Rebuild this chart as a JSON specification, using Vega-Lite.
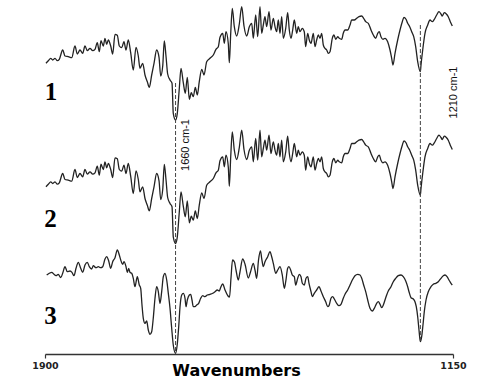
{
  "$schema": "https://vega.github.io/schema/vega-lite/v6.json",
  "width": 408,
  "height": 354,
  "autosize": {"type": "none"},
  "padding": {"left": 45, "top": 0, "right": 35, "bottom": 24},
  "background": "white",
  "config": {"view": {"stroke": null}},
  "datasets": {
    "traces": [
      {"s":"1","w":1898.2,"v":290.7},{"s":"1","w":1893.9,"v":293.3},{"s":"1","w":1889.5,"v":295.7},{"s":"1","w":1885.8,"v":294},{"s":"1","w":1881.6,"v":295.7},{"s":"1","w":1877.4,"v":293.3},{"s":"1","w":1873.7,"v":294.7},{"s":"1","w":1867.5,"v":304},{"s":"1","w":1863.2,"v":298},{"s":"1","w":1857.2,"v":297.3},{"s":"1","w":1850.9,"v":296.3},{"s":"1","w":1844.9,"v":308},{"s":"1","w":1840.6,"v":300},{"s":"1","w":1835.7,"v":304},{"s":"1","w":1830.7,"v":300.7},{"s":"1","w":1826.5,"v":308},{"s":"1","w":1822.2,"v":303.3},{"s":"1","w":1817.3,"v":305.7},{"s":"1","w":1812.3,"v":303.3},{"s":"1","w":1808.1,"v":304.7},{"s":"1","w":1803.9,"v":311.3},{"s":"1","w":1800.2,"v":302.3},{"s":"1","w":1797.1,"v":313.3},{"s":"1","w":1792.8,"v":308},{"s":"1","w":1789.7,"v":315.7},{"s":"1","w":1786.6,"v":309.7},{"s":"1","w":1783.6,"v":314},{"s":"1","w":1779.2,"v":308},{"s":"1","w":1775.6,"v":300},{"s":"1","w":1771.3,"v":319.7},{"s":"1","w":1767.1,"v":318.7},{"s":"1","w":1763.4,"v":308},{"s":"1","w":1759,"v":306.3},{"s":"1","w":1754.8,"v":312.3},{"s":"1","w":1751.1,"v":304},{"s":"1","w":1746.9,"v":314},{"s":"1","w":1742.5,"v":301.3},{"s":"1","w":1737.7,"v":284},{"s":"1","w":1732.7,"v":306.7},{"s":"1","w":1728.5,"v":298},{"s":"1","w":1725.4,"v":285.7},{"s":"1","w":1720.4,"v":290.7},{"s":"1","w":1716.2,"v":279},{"s":"1","w":1711.9,"v":272.3},{"s":"1","w":1708.3,"v":266.7},{"s":"1","w":1703.9,"v":279},{"s":"1","w":1699.6,"v":290.7},{"s":"1","w":1694.7,"v":304},{"s":"1","w":1690.4,"v":296.7},{"s":"1","w":1687.3,"v":278},{"s":"1","w":1683.6,"v":288},{"s":"1","w":1680.7,"v":313},{"s":"1","w":1677.6,"v":298},{"s":"1","w":1674.5,"v":280},{"s":"1","w":1670.2,"v":274},{"s":"1","w":1666.5,"v":270.7},{"s":"1","w":1664.2,"v":240.7},{"s":"1","w":1660,"v":234},{"s":"1","w":1656.8,"v":240.7},{"s":"1","w":1653.1,"v":265.7},{"s":"1","w":1650,"v":285.7},{"s":"1","w":1645.8,"v":271.3},{"s":"1","w":1642.1,"v":260.7},{"s":"1","w":1638.4,"v":276.7},{"s":"1","w":1634.7,"v":254.7},{"s":"1","w":1631.1,"v":261.3},{"s":"1","w":1627.4,"v":257.3},{"s":"1","w":1623.7,"v":266.7},{"s":"1","w":1620,"v":259},{"s":"1","w":1616.4,"v":272.3},{"s":"1","w":1611.9,"v":284.7},{"s":"1","w":1607.7,"v":279},{"s":"1","w":1602.8,"v":292.3},{"s":"1","w":1596.7,"v":295.7},{"s":"1","w":1590.6,"v":299},{"s":"1","w":1585.7,"v":304.7},{"s":"1","w":1581.4,"v":307.3},{"s":"1","w":1578.3,"v":316.7},{"s":"1","w":1573.3,"v":320.7},{"s":"1","w":1570.4,"v":310.7},{"s":"1","w":1567.3,"v":322.3},{"s":"1","w":1563,"v":310},{"s":"1","w":1561.2,"v":291.3},{"s":"1","w":1558.6,"v":320.7},{"s":"1","w":1555.7,"v":345.7},{"s":"1","w":1552,"v":327.3},{"s":"1","w":1547.6,"v":318},{"s":"1","w":1542.8,"v":330},{"s":"1","w":1538.4,"v":347.3},{"s":"1","w":1534.2,"v":328},{"s":"1","w":1529.2,"v":318},{"s":"1","w":1524.4,"v":327.3},
      {"s":"1","w":1520,"v":330.7},{"s":"1","w":1517.1,"v":315.7},{"s":"1","w":1512.7,"v":339},{"s":"1","w":1509,"v":317.3},{"s":"1","w":1504.8,"v":347.3},{"s":"1","w":1501.7,"v":320.7},{"s":"1","w":1498.7,"v":329},{"s":"1","w":1495.6,"v":337.3},{"s":"1","w":1492.5,"v":327.3},{"s":"1","w":1488.2,"v":342.3},{"s":"1","w":1484.6,"v":324},{"s":"1","w":1480.3,"v":335.7},{"s":"1","w":1477.2,"v":327.3},{"s":"1","w":1474.1,"v":322.3},{"s":"1","w":1471.1,"v":334},{"s":"1","w":1468,"v":320.7},{"s":"1","w":1464.9,"v":337.3},{"s":"1","w":1461.9,"v":315.7},{"s":"1","w":1457.5,"v":325.7},{"s":"1","w":1453.9,"v":341.3},{"s":"1","w":1450.9,"v":324},{"s":"1","w":1447.8,"v":315.7},{"s":"1","w":1444.7,"v":324},{"s":"1","w":1441.7,"v":334},{"s":"1","w":1437.3,"v":320.7},{"s":"1","w":1434.4,"v":327.3},{"s":"1","w":1431.3,"v":322.3},{"s":"1","w":1427,"v":325.7},{"s":"1","w":1423.4,"v":322.3},{"s":"1","w":1420.8,"v":307.3},{"s":"1","w":1417.1,"v":320.7},{"s":"1","w":1414.2,"v":314},{"s":"1","w":1411,"v":310.7},{"s":"1","w":1406.8,"v":320.7},{"s":"1","w":1403.7,"v":307.3},{"s":"1","w":1400.6,"v":314},{"s":"1","w":1397.6,"v":319},{"s":"1","w":1394.5,"v":315.7},{"s":"1","w":1391.4,"v":320.7},{"s":"1","w":1388.4,"v":309},{"s":"1","w":1385.3,"v":305.7},{"s":"1","w":1382.2,"v":304},{"s":"1","w":1379.2,"v":300.7},{"s":"1","w":1376.1,"v":302.3},{"s":"1","w":1371.9,"v":315.7},{"s":"1","w":1368.8,"v":319},{"s":"1","w":1365.6,"v":314.7},{"s":"1","w":1361.9,"v":317.3},{"s":"1","w":1359,"v":315.7},{"s":"1","w":1354.6,"v":314.7},{"s":"1","w":1351.7,"v":320.7},{"s":"1","w":1348.5,"v":324},{"s":"1","w":1343.6,"v":324},{"s":"1","w":1339.3,"v":329},{"s":"1","w":1336.2,"v":334},{"s":"1","w":1331.4,"v":334},{"s":"1","w":1327,"v":335.7},{"s":"1","w":1322.8,"v":337.3},{"s":"1","w":1317.8,"v":338},{"s":"1","w":1314.2,"v":335.7},{"s":"1","w":1310.5,"v":332.3},{"s":"1","w":1305.7,"v":330.7},{"s":"1","w":1300.7,"v":324},{"s":"1","w":1296.5,"v":319},{"s":"1","w":1292.1,"v":315.7},{"s":"1","w":1288.4,"v":320.7},{"s":"1","w":1285.5,"v":322.3},{"s":"1","w":1282.4,"v":317.3},{"s":"1","w":1278.7,"v":314.7},{"s":"1","w":1275,"v":315.7},{"s":"1","w":1270.1,"v":312.3},{"s":"1","w":1265.8,"v":304},{"s":"1","w":1262.7,"v":295.7},{"s":"1","w":1260.3,"v":289},{"s":"1","w":1256.6,"v":300.7},{"s":"1","w":1251.7,"v":314},{"s":"1","w":1247.4,"v":324},{"s":"1","w":1243.2,"v":332.3},{"s":"1","w":1240.1,"v":336.7},{"s":"1","w":1236.4,"v":334.7},{"s":"1","w":1233.3,"v":330.7},{"s":"1","w":1229.6,"v":327.3},{"s":"1","w":1225.9,"v":322.3},{"s":"1","w":1222.2,"v":317.3},{"s":"1","w":1218.6,"v":307.3},{"s":"1","w":1214.9,"v":292.3},{"s":"1","w":1210,"v":282.3},{"s":"1","w":1208.8,"v":289},{"s":"1","w":1205.7,"v":304},{"s":"1","w":1201.5,"v":320.7},{"s":"1","w":1196.5,"v":329},{"s":"1","w":1192.3,"v":334},{"s":"1","w":1188,"v":332.3},{"s":"1","w":1184.4,"v":334.7},{"s":"1","w":1180,"v":339},{"s":"1","w":1175.8,"v":342.3},{"s":"1","w":1172.1,"v":340},{"s":"1","w":1169.7,"v":338},{"s":"1","w":1166,"v":341.3},{"s":"1","w":1162.3,"v":340},{"s":"1","w":1158.7,"v":337.3},{"s":"1","w":1155,"v":332.3},{"s":"1","w":1151.3,"v":328},

      {"s":"2","w":1898.2,"v":167.2},{"s":"2","w":1893.9,"v":169.8},{"s":"2","w":1889.5,"v":172.2},{"s":"2","w":1885.8,"v":170.5},{"s":"2","w":1881.6,"v":172.2},{"s":"2","w":1877.4,"v":169.8},{"s":"2","w":1873.7,"v":171.2},{"s":"2","w":1867.5,"v":180.5},{"s":"2","w":1863.2,"v":174.5},{"s":"2","w":1857.2,"v":173.8},{"s":"2","w":1850.9,"v":172.8},{"s":"2","w":1844.9,"v":184.5},{"s":"2","w":1840.6,"v":176.5},{"s":"2","w":1835.7,"v":180.5},{"s":"2","w":1830.7,"v":177.2},{"s":"2","w":1826.5,"v":184.5},{"s":"2","w":1822.2,"v":179.8},{"s":"2","w":1817.3,"v":182.2},{"s":"2","w":1812.3,"v":179.8},{"s":"2","w":1808.1,"v":181.2},{"s":"2","w":1803.9,"v":187.8},{"s":"2","w":1800.2,"v":178.8},{"s":"2","w":1797.1,"v":189.8},{"s":"2","w":1792.8,"v":184.5},{"s":"2","w":1789.7,"v":192.2},{"s":"2","w":1786.6,"v":186.2},{"s":"2","w":1783.6,"v":190.5},{"s":"2","w":1779.2,"v":184.5},{"s":"2","w":1775.6,"v":176.5},{"s":"2","w":1771.3,"v":196.2},{"s":"2","w":1767.1,"v":195.2},{"s":"2","w":1763.4,"v":184.5},{"s":"2","w":1759,"v":182.8},{"s":"2","w":1754.8,"v":188.8},{"s":"2","w":1751.1,"v":180.5},{"s":"2","w":1746.9,"v":190.5},{"s":"2","w":1742.5,"v":177.8},{"s":"2","w":1737.7,"v":160.5},{"s":"2","w":1732.7,"v":183.2},{"s":"2","w":1728.5,"v":174.5},{"s":"2","w":1725.4,"v":162.2},{"s":"2","w":1720.4,"v":167.2},{"s":"2","w":1716.2,"v":155.5},{"s":"2","w":1711.9,"v":148.8},{"s":"2","w":1708.3,"v":143.2},{"s":"2","w":1703.9,"v":155.5},{"s":"2","w":1699.6,"v":167.2},{"s":"2","w":1694.7,"v":180.5},{"s":"2","w":1690.4,"v":173.2},{"s":"2","w":1687.3,"v":154.5},{"s":"2","w":1683.6,"v":164.5},{"s":"2","w":1680.7,"v":189.5},{"s":"2","w":1677.6,"v":174.5},{"s":"2","w":1674.5,"v":156.5},{"s":"2","w":1670.2,"v":150.5},{"s":"2","w":1666.5,"v":147.2},{"s":"2","w":1664.2,"v":117.2},{"s":"2","w":1660,"v":110.5},{"s":"2","w":1656.8,"v":117.2},{"s":"2","w":1653.1,"v":142.2},{"s":"2","w":1650,"v":162.2},{"s":"2","w":1645.8,"v":147.8},{"s":"2","w":1642.1,"v":137.2},{"s":"2","w":1638.4,"v":153.2},{"s":"2","w":1634.7,"v":131.2},{"s":"2","w":1631.1,"v":137.8},{"s":"2","w":1627.4,"v":133.8},{"s":"2","w":1623.7,"v":143.2},{"s":"2","w":1620,"v":135.5},{"s":"2","w":1616.4,"v":148.8},{"s":"2","w":1611.9,"v":161.2},{"s":"2","w":1607.7,"v":155.5},{"s":"2","w":1602.8,"v":168.8},{"s":"2","w":1596.7,"v":172.2},{"s":"2","w":1590.6,"v":175.5},{"s":"2","w":1585.7,"v":181.2},{"s":"2","w":1581.4,"v":183.8},{"s":"2","w":1578.3,"v":193.2},{"s":"2","w":1573.3,"v":197.2},{"s":"2","w":1570.4,"v":187.2},{"s":"2","w":1567.3,"v":198.8},{"s":"2","w":1563,"v":186.5},{"s":"2","w":1561.2,"v":167.8},{"s":"2","w":1558.6,"v":197.2},{"s":"2","w":1555.7,"v":222.2},{"s":"2","w":1552,"v":203.8},{"s":"2","w":1547.6,"v":194.5},{"s":"2","w":1542.8,"v":206.5},{"s":"2","w":1538.4,"v":223.8},{"s":"2","w":1534.2,"v":204.5},{"s":"2","w":1529.2,"v":194.5},{"s":"2","w":1524.4,"v":203.8},
      {"s":"2","w":1520,"v":207.2},{"s":"2","w":1517.1,"v":192.2},{"s":"2","w":1512.7,"v":215.5},{"s":"2","w":1509,"v":193.8},{"s":"2","w":1504.8,"v":223.8},{"s":"2","w":1501.7,"v":197.2},{"s":"2","w":1498.7,"v":205.5},{"s":"2","w":1495.6,"v":213.8},{"s":"2","w":1492.5,"v":203.8},{"s":"2","w":1488.2,"v":218.8},{"s":"2","w":1484.6,"v":200.5},{"s":"2","w":1480.3,"v":212.2},{"s":"2","w":1477.2,"v":203.8},{"s":"2","w":1474.1,"v":198.8},{"s":"2","w":1471.1,"v":210.5},{"s":"2","w":1468,"v":197.2},{"s":"2","w":1464.9,"v":213.8},{"s":"2","w":1461.9,"v":192.2},{"s":"2","w":1457.5,"v":202.2},{"s":"2","w":1453.9,"v":217.8},{"s":"2","w":1450.9,"v":200.5},{"s":"2","w":1447.8,"v":192.2},{"s":"2","w":1444.7,"v":200.5},{"s":"2","w":1441.7,"v":210.5},{"s":"2","w":1437.3,"v":197.2},{"s":"2","w":1434.4,"v":203.8},{"s":"2","w":1431.3,"v":198.8},{"s":"2","w":1427,"v":202.2},{"s":"2","w":1423.4,"v":198.8},{"s":"2","w":1420.8,"v":183.8},{"s":"2","w":1417.1,"v":197.2},{"s":"2","w":1414.2,"v":190.5},{"s":"2","w":1411,"v":187.2},{"s":"2","w":1406.8,"v":197.2},{"s":"2","w":1403.7,"v":183.8},{"s":"2","w":1400.6,"v":190.5},{"s":"2","w":1397.6,"v":195.5},{"s":"2","w":1394.5,"v":192.2},{"s":"2","w":1391.4,"v":197.2},{"s":"2","w":1388.4,"v":185.5},{"s":"2","w":1385.3,"v":182.2},{"s":"2","w":1382.2,"v":180.5},{"s":"2","w":1379.2,"v":177.2},{"s":"2","w":1376.1,"v":178.8},{"s":"2","w":1371.9,"v":192.2},{"s":"2","w":1368.8,"v":195.5},{"s":"2","w":1365.6,"v":191.2},{"s":"2","w":1361.9,"v":193.8},{"s":"2","w":1359,"v":192.2},{"s":"2","w":1354.6,"v":191.2},{"s":"2","w":1351.7,"v":197.2},{"s":"2","w":1348.5,"v":200.5},{"s":"2","w":1343.6,"v":200.5},{"s":"2","w":1339.3,"v":205.5},{"s":"2","w":1336.2,"v":210.5},{"s":"2","w":1331.4,"v":210.5},{"s":"2","w":1327,"v":212.2},{"s":"2","w":1322.8,"v":213.8},{"s":"2","w":1317.8,"v":214.5},{"s":"2","w":1314.2,"v":212.2},{"s":"2","w":1310.5,"v":208.8},{"s":"2","w":1305.7,"v":207.2},{"s":"2","w":1300.7,"v":200.5},{"s":"2","w":1296.5,"v":195.5},{"s":"2","w":1292.1,"v":192.2},{"s":"2","w":1288.4,"v":197.2},{"s":"2","w":1285.5,"v":198.8},{"s":"2","w":1282.4,"v":193.8},{"s":"2","w":1278.7,"v":191.2},{"s":"2","w":1275,"v":192.2},{"s":"2","w":1270.1,"v":188.8},{"s":"2","w":1265.8,"v":180.5},{"s":"2","w":1262.7,"v":172.2},{"s":"2","w":1260.3,"v":165.5},{"s":"2","w":1256.6,"v":177.2},{"s":"2","w":1251.7,"v":190.5},{"s":"2","w":1247.4,"v":200.5},{"s":"2","w":1243.2,"v":208.8},{"s":"2","w":1240.1,"v":213.2},{"s":"2","w":1236.4,"v":211.2},{"s":"2","w":1233.3,"v":207.2},{"s":"2","w":1229.6,"v":203.8},{"s":"2","w":1225.9,"v":198.8},{"s":"2","w":1222.2,"v":193.8},{"s":"2","w":1218.6,"v":183.8},{"s":"2","w":1214.9,"v":168.8},{"s":"2","w":1210,"v":158.8},{"s":"2","w":1208.8,"v":165.5},{"s":"2","w":1205.7,"v":180.5},{"s":"2","w":1201.5,"v":197.2},{"s":"2","w":1196.5,"v":205.5},{"s":"2","w":1192.3,"v":210.5},{"s":"2","w":1188,"v":208.8},{"s":"2","w":1184.4,"v":211.2},{"s":"2","w":1180,"v":215.5},{"s":"2","w":1175.8,"v":218.8},{"s":"2","w":1172.1,"v":216.5},{"s":"2","w":1169.7,"v":214.5},{"s":"2","w":1166,"v":217.8},{"s":"2","w":1162.3,"v":216.5},{"s":"2","w":1158.7,"v":213.8},{"s":"2","w":1155,"v":208.8},{"s":"2","w":1151.3,"v":204.5},

      {"s":"3","w":1896.9,"v":79},{"s":"3","w":1892.1,"v":80.7},{"s":"3","w":1887.7,"v":81.7},{"s":"3","w":1883.5,"v":79.7},{"s":"3","w":1879.8,"v":78.3},{"s":"3","w":1875.6,"v":79.7},{"s":"3","w":1871.1,"v":76.3},{"s":"3","w":1867.5,"v":80.7},{"s":"3","w":1863.2,"v":87.3},{"s":"3","w":1859,"v":82.3},{"s":"3","w":1854,"v":83},{"s":"3","w":1850.4,"v":81.7},{"s":"3","w":1846.7,"v":78.3},{"s":"3","w":1843,"v":85.7},{"s":"3","w":1838.8,"v":91.7},{"s":"3","w":1834.4,"v":85.7},{"s":"3","w":1830.7,"v":81.7},{"s":"3","w":1826.5,"v":89},{"s":"3","w":1822.2,"v":91.7},{"s":"3","w":1818.6,"v":87.3},{"s":"3","w":1814.2,"v":85},{"s":"3","w":1811.2,"v":88.3},{"s":"3","w":1806.3,"v":86.3},{"s":"3","w":1802,"v":87.3},{"s":"3","w":1797.6,"v":86.3},{"s":"3","w":1793.9,"v":87.3},{"s":"3","w":1789.7,"v":95},{"s":"3","w":1786.6,"v":97.3},{"s":"3","w":1782.9,"v":93},{"s":"3","w":1779.2,"v":85.7},{"s":"3","w":1775.6,"v":92.3},{"s":"3","w":1771.3,"v":96.3},{"s":"3","w":1767.1,"v":104},{"s":"3","w":1763.4,"v":99},{"s":"3","w":1760.8,"v":94},{"s":"3","w":1757.2,"v":89.7},{"s":"3","w":1754.8,"v":92.3},{"s":"3","w":1751.1,"v":87.3},{"s":"3","w":1748.7,"v":81.7},{"s":"3","w":1746.1,"v":85.7},{"s":"3","w":1743.8,"v":81.7},{"s":"3","w":1740.6,"v":80.7},{"s":"3","w":1737.7,"v":75.7},{"s":"3","w":1734.6,"v":67.3},{"s":"3","w":1730.3,"v":77.3},{"s":"3","w":1726.7,"v":69},{"s":"3","w":1724.1,"v":65.7},{"s":"3","w":1721.7,"v":49},{"s":"3","w":1719.3,"v":35.7},{"s":"3","w":1716.2,"v":30.7},{"s":"3","w":1713.1,"v":33},{"s":"3","w":1710.1,"v":24},{"s":"3","w":1707,"v":19.7},{"s":"3","w":1703.9,"v":22.3},{"s":"3","w":1701,"v":35.7},{"s":"3","w":1697.8,"v":55.7},{"s":"3","w":1694.7,"v":67.3},{"s":"3","w":1691.7,"v":62.3},{"s":"3","w":1688.6,"v":50.7},{"s":"3","w":1685.5,"v":62.3},{"s":"3","w":1682.5,"v":77.3},{"s":"3","w":1679.4,"v":80.7},{"s":"3","w":1676.3,"v":74},{"s":"3","w":1673.3,"v":60.7},{"s":"3","w":1670.2,"v":45.7},{"s":"3","w":1667.1,"v":25.7},{"s":"3","w":1664.2,"v":9},{"s":"3","w":1660,"v":0.7},{"s":"3","w":1657,"v":9},{"s":"3","w":1654,"v":29},{"s":"3","w":1651.8,"v":47.3},{"s":"3","w":1648.7,"v":59},{"s":"3","w":1645.8,"v":60.7},{"s":"3","w":1642.6,"v":55.7},{"s":"3","w":1640.8,"v":47.3},{"s":"3","w":1638.4,"v":54},{"s":"3","w":1634.7,"v":59},{"s":"3","w":1632.2,"v":59.7},{"s":"3","w":1629.8,"v":54},{"s":"3","w":1627.4,"v":47.3},{"s":"3","w":1624.3,"v":47.3},{"s":"3","w":1621.1,"v":49},{"s":"3","w":1617.5,"v":50.7},{"s":"3","w":1613.8,"v":55.7},{"s":"3","w":1610.1,"v":58.3},{"s":"3","w":1605.9,"v":57.3},{"s":"3","w":1601.7,"v":59},{"s":"3","w":1596.7,"v":59.7},{"s":"3","w":1591.7,"v":60.7},{"s":"3","w":1587.5,"v":62.3},{"s":"3","w":1583.3,"v":64},{"s":"3","w":1579.6,"v":63},{"s":"3","w":1577.4,"v":66},{"s":"3","w":1573.3,"v":70},{"s":"3","w":1569.1,"v":64},{"s":"3","w":1563.6,"v":58},{"s":"3","w":1560.8,"v":57},{"s":"3","w":1558.1,"v":76},{"s":"3","w":1555.3,"v":94},{"s":"3","w":1551.7,"v":92},{"s":"3","w":1548.9,"v":84},{"s":"3","w":1544.7,"v":74},{"s":"3","w":1541.6,"v":82},{"s":"3","w":1536.6,"v":95},{"s":"3","w":1532.4,"v":90},{"s":"3","w":1526.3,"v":76},{"s":"3","w":1522.3,"v":82},{"s":"3","w":1517.1,"v":90.7},{"s":"3","w":1514,"v":84},{"s":"3","w":1510.9,"v":75.7},{"s":"3","w":1507.5,"v":94},{"s":"3","w":1503.9,"v":103},{"s":"3","w":1501.7,"v":95.7},{"s":"3","w":1498.7,"v":87.3},{"s":"3","w":1495.6,"v":92.3},{"s":"3","w":1490.6,"v":97.3},{"s":"3","w":1486.4,"v":102.3},{"s":"3","w":1483.3,"v":97.3},{"s":"3","w":1480.3,"v":90.7},{"s":"3","w":1475.9,"v":80.7},{"s":"3","w":1472.2,"v":84},{"s":"3","w":1468,"v":87.3},{"s":"3","w":1463.8,"v":79},{"s":"3","w":1460.1,"v":65.7},{"s":"3","w":1457.5,"v":72.3},{"s":"3","w":1453.9,"v":85.7},{"s":"3","w":1451.5,"v":87.3},{"s":"3","w":1447.8,"v":83},{"s":"3","w":1445.4,"v":79},{"s":"3","w":1441.7,"v":77.3},{"s":"3","w":1439.2,"v":69},{"s":"3","w":1435.5,"v":75.7},{"s":"3","w":1432.5,"v":79.7},{"s":"3","w":1429.4,"v":77.3},{"s":"3","w":1427,"v":70.7},{"s":"3","w":1423.4,"v":69},{"s":"3","w":1420.2,"v":75.7},{"s":"3","w":1417.1,"v":77.3},{"s":"3","w":1414.7,"v":70.7},{"s":"3","w":1411,"v":62.3},{"s":"3","w":1408.6,"v":57.3},{"s":"3","w":1405,"v":60.7},{"s":"3","w":1400.6,"v":64},{"s":"3","w":1396.3,"v":67.3},{"s":"3","w":1392.7,"v":63},{"s":"3","w":1388.4,"v":57.3},{"s":"3","w":1384,"v":52.3},{"s":"3","w":1380.3,"v":47.3},{"s":"3","w":1377.9,"v":48.3},{"s":"3","w":1374.3,"v":55.7},{"s":"3","w":1371.2,"v":57.3},{"s":"3","w":1368.2,"v":55},{"s":"3","w":1363.8,"v":50.7},{"s":"3","w":1359.6,"v":48.3},{"s":"3","w":1355.9,"v":49.7},{"s":"3","w":1351.7,"v":55.7},{"s":"3","w":1348.5,"v":59.7},{"s":"3","w":1343.6,"v":64},{"s":"3","w":1339.3,"v":69},{"s":"3","w":1335.1,"v":74},{"s":"3","w":1330.2,"v":78.3},{"s":"3","w":1325.2,"v":79.7},{"s":"3","w":1320.9,"v":79},{"s":"3","w":1317.8,"v":75.7},{"s":"3","w":1314.2,"v":69},{"s":"3","w":1310.5,"v":62.3},{"s":"3","w":1306.8,"v":54},{"s":"3","w":1302.6,"v":45.7},{"s":"3","w":1298.3,"v":43},{"s":"3","w":1294.7,"v":45.7},{"s":"3","w":1290.3,"v":50.7},{"s":"3","w":1287.3,"v":52.3},{"s":"3","w":1284.2,"v":49.7},{"s":"3","w":1281.1,"v":46.3},{"s":"3","w":1278.1,"v":49},{"s":"3","w":1275,"v":54},{"s":"3","w":1271.9,"v":59},{"s":"3","w":1269,"v":63},{"s":"3","w":1264,"v":67.3},{"s":"3","w":1259.8,"v":72.3},{"s":"3","w":1255.3,"v":75.7},{"s":"3","w":1250.6,"v":78.3},{"s":"3","w":1245.6,"v":79},{"s":"3","w":1241.4,"v":77.3},{"s":"3","w":1236.9,"v":73},{"s":"3","w":1233.3,"v":67.3},{"s":"3","w":1230.9,"v":62.3},{"s":"3","w":1227.2,"v":56.3},{"s":"3","w":1223,"v":55},{"s":"3","w":1219.9,"v":52.3},{"s":"3","w":1217.5,"v":47.3},{"s":"3","w":1214.9,"v":37.3},{"s":"3","w":1212.5,"v":24},{"s":"3","w":1210,"v":12.3},{"s":"3","w":1207.6,"v":17.3},{"s":"3","w":1205.2,"v":29},{"s":"3","w":1202.8,"v":42.3},{"s":"3","w":1199.6,"v":54},{"s":"3","w":1195.4,"v":62.3},{"s":"3","w":1190.5,"v":67.3},{"s":"3","w":1186.2,"v":69.7},{"s":"3","w":1181.8,"v":70.7},{"s":"3","w":1177,"v":72.3},{"s":"3","w":1172.1,"v":75.7},{"s":"3","w":1167.8,"v":78.3},{"s":"3","w":1164.7,"v":79},{"s":"3","w":1161,"v":77.3},{"s":"3","w":1157.4,"v":74},{"s":"3","w":1153.7,"v":70.7},{"s":"3","w":1151.3,"v":69}
    ],
    "markers": [
      {"w": 1660, "top": 271, "bottom": 0},
      {"w": 1210, "top": 329, "bottom": 11}
    ],
    "numbers": [
      {"w": 1889, "v": 254, "t": "1"},
      {"w": 1890, "v": 127, "t": "2"},
      {"w": 1890, "v": 30, "t": "3"}
    ],
    "notes": [
      {"w": 1640.8, "v": 209, "t": "1660 cm-1"},
      {"w": 1149, "v": 261.5, "t": "1210 cm-1"}
    ]
  },
  "layer": [
    {
      "data": {"name": "traces"},
      "mark": {"type": "line", "color": "#222222", "strokeWidth": 1.3, "interpolate": "monotone"},
      "encoding": {
        "x": {
          "field": "w", "type": "quantitative",
          "scale": {"domain": [1900, 1150], "nice": false, "zero": false},
          "axis": {
            "values": [1900, 1150],
            "title": "Wavenumbers",
            "titleFont": "DejaVu Sans", "titleFontWeight": "bold", "titleFontSize": 16,
            "titleColor": "#000", "titleX": 191, "titleY": 21, "titleBaseline": "alphabetic", "titleAnchor": null, "titleAlign": "center",
            "labelFont": "DejaVu Sans", "labelFontWeight": "bold", "labelFontSize": 9.5, "labelColor": "#222",
            "labelPadding": 2, "labelFlush": false,
            "tickSize": 4, "tickColor": "#333", "tickWidth": 1.2,
            "domainColor": "#333", "domainWidth": 1.5, "grid": false, "format": "d"
          }
        },
        "y": {
          "field": "v", "type": "quantitative",
          "scale": {"domain": [0, 354], "nice": false, "zero": false},
          "axis": null
        },
        "detail": {"field": "s"}
      }
    },
    {
      "data": {"name": "markers"},
      "mark": {"type": "rule", "color": "#444", "strokeWidth": 1, "strokeDash": [4, 2]},
      "encoding": {
        "x": {"field": "w", "type": "quantitative"},
        "y": {"field": "top", "type": "quantitative"},
        "y2": {"field": "bottom"}
      }
    },
    {
      "data": {"name": "numbers"},
      "mark": {"type": "text", "font": "Liberation Serif", "fontWeight": "bold", "fontSize": 25, "align": "center", "baseline": "alphabetic", "color": "#000"},
      "encoding": {
        "x": {"field": "w", "type": "quantitative"},
        "y": {"field": "v", "type": "quantitative"},
        "text": {"field": "t"}
      }
    },
    {
      "data": {"name": "notes"},
      "mark": {"type": "text", "font": "Liberation Sans", "fontSize": 11, "angle": 270, "align": "center", "baseline": "middle", "color": "#111"},
      "encoding": {
        "x": {"field": "w", "type": "quantitative"},
        "y": {"field": "v", "type": "quantitative"},
        "text": {"field": "t"}
      }
    }
  ]
}
